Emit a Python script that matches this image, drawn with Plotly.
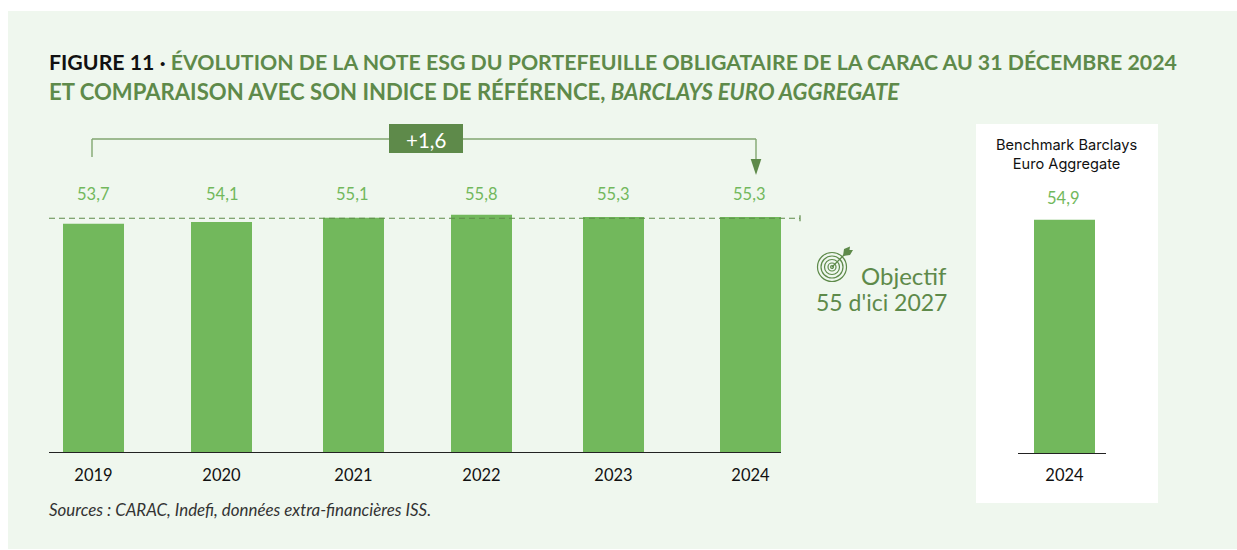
import plotly.graph_objects as go

years = ["2019", "2020", "2021", "2022", "2023", "2024"]
scores = [53.7, 54.1, 55.1, 55.8, 55.3, 55.3]
score_labels = ["53,7", "54,1", "55,1", "55,8", "55,3", "55,3"]
bench_year = ["2024"]
bench_score = [54.9]
bench_label = "54,9"
objective = 55
delta_label = "+1,6"

W, H = 1237, 550
FONT = "Lato"
BAR = "#72b85c"
DARK = "#5e8a4a"
LINE = "#82a670"
PANEL = "#eff7ee"

# layout: slot centres of the unevenly spaced year groups, in axis units
slots = [44.5, 172.5, 304.5, 432.5, 564.5, 701.5]
label_px = [93, 222, 352, 481, 613, 749]


def px(v):
    return v / W


def py(v):
    return 1 - v / H


def rect(x0, y0, x1, y1, fill, layer="below"):
    return dict(type="rect", xref="paper", yref="paper", x0=px(x0), x1=px(x1), y0=py(y0), y1=py(y1),
                fillcolor=fill, line_width=0, layer=layer)


def seg(x0, y0, x1, y1, color=LINE, width=1.4, dash="solid"):
    return dict(type="line", xref="paper", yref="paper", x0=px(x0), x1=px(x1), y0=py(y0), y1=py(y1),
                line=dict(color=color, width=width, dash=dash), layer="above")


def poly(points, fill=DARK):
    d = "M " + " L ".join(f"{px(x):.5f},{py(y):.5f}" for x, y in points) + " Z"
    return dict(type="path", xref="paper", yref="paper", path=d, fillcolor=fill, line_width=0, layer="above")


def circle(cx, cy, r, width=1.2):
    return dict(type="circle", xref="paper", yref="paper", x0=px(cx - r), x1=px(cx + r), y0=py(cy - r), y1=py(cy + r),
                line=dict(color=DARK, width=width), layer="above")


def text(x, y, s, size, color, anchor="center", family=FONT):
    return dict(xref="paper", yref="paper", x=px(x), y=py(y), text=s, showarrow=False, xanchor=anchor, yanchor="middle",
                align=anchor, font=dict(family=family, size=size, color=color))


fig = go.Figure()
fig.add_trace(go.Bar(x=slots, y=scores, width=61, marker=dict(color=BAR, line_width=0), xaxis="x", yaxis="y",
                     hoverinfo="skip", showlegend=False))
fig.add_trace(go.Bar(x=[0], y=bench_score, width=61, marker=dict(color=BAR, line_width=0), xaxis="x2", yaxis="y2",
                     hoverinfo="skip", showlegend=False))

shapes = [
    rect(8, 11, 1237, 549, PANEL),
    rect(976, 124, 1158, 503, "#ffffff"),
    # objective line (value scale) and end cap
    dict(type="line", xref="paper", yref="y", x0=px(49), x1=px(800), y0=objective, y1=objective,
         line=dict(color=DARK, width=1.2, dash="6px,4px"), layer="above"),
    dict(type="line", xref="paper", yref="y", x0=px(800), x1=px(800), y0=objective - 0.7, y1=objective + 0.7,
         line=dict(color=DARK, width=1.2), layer="above"),
    # bracket
    seg(92, 157, 92, 139), seg(92, 139, 756, 139), seg(756, 139, 756, 160),
    poly([(750.7, 159), (761.3, 159), (756, 175)]),
    rect(389, 124, 463, 153, DARK, "above"),
    # target icon
    circle(832, 267, 14.5), circle(832, 267, 11), circle(832, 267, 7.5), circle(832, 267, 4), circle(832, 267, 1.4),
    seg(832, 267, 846, 253, DARK, 1.3),
    poly([(843, 256), (844, 249), (850, 246.5), (849.5, 250), (853, 250), (850, 255)]),
]

annotations = [
    text(46.5, 62, '<b><span style="color:#111111">FIGURE 11 · </span>ÉVOLUTION DE LA NOTE ESG DU PORTEFEUILLE OBLIGATAIRE DE LA CARAC AU 31 DÉCEMBRE 2024</b>',
         21.3, DARK, "left"),
    text(46.5, 91, '<b>ET COMPARAISON AVEC SON INDICE DE RÉFÉRENCE, <i>BARCLAYS EURO AGGREGATE</i></b>', 22.1, DARK, "left"),
    text(426, 140, delta_label, 20.5, "#ffffff"),
    text(949, 275, "Objectif", 24, DARK, "right"),
    text(949, 302, "55 d'ici 2027", 23, DARK, "right"),
    text(1066.5, 154.5, "Benchmark Barclays<br>Euro Aggregate", 14.6, "#111111", family="Inter"),
    text(1063, 198, bench_label, 16.5, BAR),
    text(46.5, 509, "<i>Sources : CARAC, Indefi, données extra-financières ISS.</i>", 16.9, "#333333", "left"),
]
for xp, lab in zip(label_px, score_labels):
    annotations.append(text(xp, 194, lab, 16.5, BAR))

axis_font = dict(family=FONT, size=16.5, color="#111111")
fig.update_layout(
    width=W, height=H, autosize=False,
    margin=dict(l=0, r=0, t=0, b=0),
    paper_bgcolor="#ffffff", plot_bgcolor="rgba(0,0,0,0)",
    showlegend=False, barmode="overlay",
    shapes=shapes, annotations=annotations,
    xaxis=dict(domain=[px(49), px(781)], range=[0, 732], tickmode="array", tickvals=slots, ticktext=years,
               showline=True, linecolor="#222222", linewidth=1.4, showgrid=False, zeroline=False,
               ticks="", tickfont=axis_font, ticklabelstandoff=8, fixedrange=True),
    yaxis=dict(domain=[py(452), py(197)], range=[0, 60], visible=False, fixedrange=True),
    xaxis2=dict(domain=[px(1018), px(1106)], range=[-46.5, 41.5], tickmode="array", tickvals=[0], ticktext=bench_year,
                showline=True, linecolor="#222222", linewidth=1.4, showgrid=False, zeroline=False,
                ticks="", tickfont=axis_font, ticklabelstandoff=7, anchor="y2", fixedrange=True),
    yaxis2=dict(domain=[py(453), py(198)], range=[0, 60], visible=False, anchor="x2", fixedrange=True),
)

fig.write_html("out.html", config={"displayModeBar": False},
               default_width=f"{W}px", default_height=f"{H}px",
               post_script="document.body.style.margin='0';document.documentElement.style.overflow='hidden';")
